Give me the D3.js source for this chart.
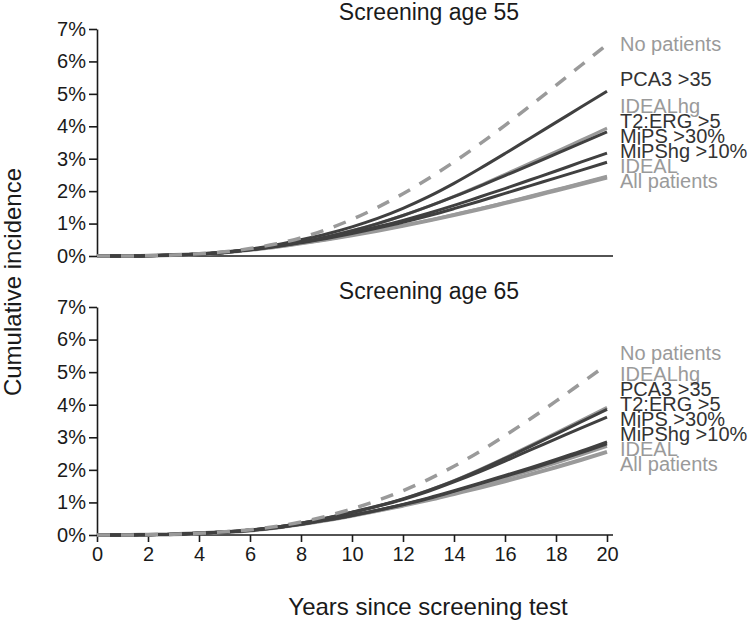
<!DOCTYPE html>
<html>
<head>
<meta charset="utf-8">
<script src="https://cdn.jsdelivr.net/npm/d3@7"></script>
<style>
body { margin: 0; background: #fff; }
text { font-family: "Liberation Sans", Arial, sans-serif; }
</style>
</head>
<body>
<svg id="chart"></svg>
<script>
const years = [0, 1, 2, 3, 4, 5, 6, 7, 8, 9, 10, 11, 12, 13, 14, 15, 16, 17, 18, 19, 20]
const seriesNames = ['No patients', 'PCA3 >35', 'IDEALhg', 'T2:ERG >5', 'MiPS >30%', 'MiPShg >10%', 'IDEAL', 'All patients']
const panelTitles = ['Screening age 55', 'Screening age 65']
const yTicks = [0, 1, 2, 3, 4, 5, 6, 7]
const xTicks = [0, 2, 4, 6, 8, 10, 12, 14, 16, 18, 20]

// cumulative incidence (%) per year, screening age 55
const age55 = {
    'No patients':  [0, 0, 0.01, 0.03, 0.07, 0.13, 0.23, 0.37, 0.56, 0.82, 1.13, 1.5, 1.92, 2.39, 2.9, 3.45, 4.03, 4.64, 5.26, 5.89, 6.52],
    'PCA3 >35':     [0, 0, 0.01, 0.03, 0.06, 0.12, 0.21, 0.34, 0.5, 0.68, 0.9, 1.16, 1.47, 1.83, 2.24, 2.69, 3.16, 3.64, 4.12, 4.6, 5.08],
    'IDEALhg':      [0, 0, 0.01, 0.03, 0.06, 0.11, 0.2, 0.3, 0.43, 0.59, 0.78, 1.0, 1.25, 1.53, 1.84, 2.17, 2.52, 2.87, 3.22, 3.58, 3.94],
    'T2:ERG >5':    [0, 0, 0.01, 0.03, 0.06, 0.11, 0.2, 0.3, 0.43, 0.59, 0.78, 1.0, 1.25, 1.53, 1.83, 2.15, 2.48, 2.81, 3.15, 3.49, 3.83],
    'MiPS >30%':    [0, 0, 0.01, 0.03, 0.06, 0.11, 0.19, 0.29, 0.42, 0.56, 0.72, 0.9, 1.1, 1.32, 1.56, 1.82, 2.08, 2.35, 2.62, 2.9, 3.17],
    'MiPShg >10%':  [0, 0, 0.01, 0.03, 0.06, 0.11, 0.19, 0.29, 0.41, 0.54, 0.69, 0.86, 1.04, 1.24, 1.46, 1.69, 1.93, 2.17, 2.41, 2.65, 2.89],
    'IDEAL':        [0, 0, 0.01, 0.03, 0.06, 0.11, 0.19, 0.28, 0.39, 0.51, 0.65, 0.79, 0.94, 1.1, 1.28, 1.46, 1.65, 1.85, 2.05, 2.25, 2.46],
    'All patients': [0, 0, 0.01, 0.03, 0.06, 0.11, 0.19, 0.28, 0.39, 0.51, 0.64, 0.78, 0.93, 1.09, 1.26, 1.44, 1.63, 1.82, 2.02, 2.22, 2.42]
}

// cumulative incidence (%) per year, screening age 65
const age65 = {
    'No patients':  [0, 0, 0.01, 0.02, 0.05, 0.1, 0.16, 0.26, 0.4, 0.58, 0.8, 1.06, 1.36, 1.71, 2.11, 2.56, 3.05, 3.57, 4.11, 4.67, 5.23],
    'PCA3 >35':     [0, 0, 0.01, 0.02, 0.05, 0.09, 0.15, 0.24, 0.36, 0.52, 0.7, 0.89, 1.11, 1.37, 1.66, 1.99, 2.35, 2.72, 3.1, 3.48, 3.86],
    'IDEALhg':      [0, 0, 0.01, 0.02, 0.05, 0.09, 0.15, 0.24, 0.36, 0.52, 0.7, 0.89, 1.11, 1.37, 1.67, 2.01, 2.37, 2.75, 3.14, 3.53, 3.92],
    'T2:ERG >5':    [0, 0, 0.01, 0.02, 0.05, 0.09, 0.15, 0.24, 0.36, 0.51, 0.69, 0.88, 1.09, 1.34, 1.63, 1.94, 2.27, 2.61, 2.95, 3.29, 3.62],
    'MiPS >30%':    [0, 0, 0.01, 0.02, 0.05, 0.09, 0.14, 0.22, 0.33, 0.46, 0.6, 0.76, 0.94, 1.14, 1.36, 1.59, 1.83, 2.07, 2.32, 2.58, 2.86],
    'MiPShg >10%':  [0, 0, 0.01, 0.02, 0.05, 0.09, 0.14, 0.22, 0.33, 0.46, 0.6, 0.76, 0.93, 1.12, 1.34, 1.57, 1.8, 2.03, 2.28, 2.53, 2.8],
    'IDEAL':        [0, 0, 0.01, 0.02, 0.05, 0.09, 0.14, 0.22, 0.33, 0.45, 0.59, 0.75, 0.92, 1.1, 1.31, 1.52, 1.74, 1.97, 2.21, 2.46, 2.72],
    'All patients': [0, 0, 0.01, 0.02, 0.05, 0.09, 0.14, 0.22, 0.33, 0.45, 0.59, 0.74, 0.9, 1.07, 1.26, 1.45, 1.65, 1.86, 2.08, 2.31, 2.55]
}

const dark = '#404040'
const grey = '#9a9a9a'
const styleOf = {
    'No patients':  { color: grey, width: 3.5, dash: '13,11', text: grey },
    'PCA3 >35':     { color: dark, width: 3, text: '#333' },
    'IDEALhg':      { color: grey, width: 3, text: grey },
    'T2:ERG >5':    { color: dark, width: 3, text: '#333' },
    'MiPS >30%':    { color: dark, width: 3, text: '#333' },
    'MiPShg >10%':  { color: dark, width: 3, text: '#333' },
    'IDEAL':        { color: grey, width: 3, text: grey },
    'All patients': { color: grey, width: 4, text: grey }
}
const drawOrder = ['All patients', 'IDEAL', 'IDEALhg', 'MiPShg >10%', 'MiPS >30%', 'T2:ERG >5', 'PCA3 >35', 'No patients']

const W = 750, H = 621
const svg = d3.select('#chart').attr('width', W).attr('height', H)

const x = d3.scaleLinear().domain([0, 20]).range([97, 607])
const panels = [
    { title: panelTitles[0], data: age55, y: d3.scaleLinear().domain([0, 7]).range([256, 29]), titleY: 20, ticks: false },
    { title: panelTitles[1], data: age65, y: d3.scaleLinear().domain([0, 7]).range([535, 307]), titleY: 299, ticks: true }
]

// push end labels apart so they stay readable, as in the original
const spread = (items, gap, minY) => {
    items.sort((a, b) => a.y - b.y)
    for (let k = 0; k < 300; k++) {
        for (let i = 0; i < items.length - 1; i++) {
            const d = items[i + 1].y - items[i].y
            if (d < gap) {
                const s = (gap - d) / 2
                items[i].y -= s
                items[i + 1].y += s
            }
        }
        items.forEach(e => { if (e.y < minY) e.y = minY })
    }
    return items
}

panels.forEach(p => {
    const g = svg.append('g')
    const y = p.y

    g.append('text')
        .attr('x', 429).attr('y', p.titleY)
        .attr('text-anchor', 'middle')
        .attr('font-size', 23)
        .attr('fill', '#1a1a1a')
        .text(p.title)

    const ya = g.append('g')
        .attr('transform', `translate(${x(0)},0)`)
        .call(d3.axisLeft(y).tickValues(yTicks).tickFormat(d => d + '%').tickSize(8).tickSizeOuter(0).tickPadding(3))
    ya.selectAll('text').attr('font-size', 20).attr('fill', '#1a1a1a')
    ya.selectAll('line, path').attr('stroke', '#1a1a1a').attr('stroke-width', 1.6)

    if (p.ticks) {
        const xa = g.append('g')
            .attr('transform', `translate(0,${y(0)})`)
            .call(d3.axisBottom(x).tickValues(xTicks).tickSize(7).tickSizeOuter(0).tickPadding(5))
        xa.select('.domain').remove()
        xa.selectAll('text').attr('font-size', 20).attr('fill', '#1a1a1a')
        xa.selectAll('line').attr('stroke', '#1a1a1a').attr('stroke-width', 1.6)
    }
    g.append('line')
        .attr('x1', x(0)).attr('x2', x(20) + 6)
        .attr('y1', y(0)).attr('y2', y(0))
        .attr('stroke', '#1a1a1a').attr('stroke-width', 1.6)

    const line = d3.line()
        .x((d, i) => x(years[i]))
        .y(d => y(d))
        .curve(d3.curveMonotoneX)

    drawOrder.forEach(name => {
        const st = styleOf[name]
        g.append('path')
            .datum(p.data[name])
            .attr('d', line)
            .attr('fill', 'none')
            .attr('stroke', st.color)
            .attr('stroke-width', st.width)
            .attr('stroke-dasharray', st.dash || null)
    })

    const labels = spread(seriesNames.map(name => ({
        name,
        y: y(p.data[name][years.length - 1]) - 12
    })), 15, y(7) + 15)

    g.selectAll('.lbl').data(labels).enter()
        .append('text')
        .attr('class', 'lbl')
        .attr('x', 620)
        .attr('y', d => d.y)
        .attr('dy', '0.36em')
        .attr('font-size', 20)
        .attr('fill', d => styleOf[d.name].text)
        .text(d => d.name)
})

svg.append('text')
    .attr('transform', 'translate(21,282) rotate(-90)')
    .attr('text-anchor', 'middle')
    .attr('font-size', 24)
    .attr('fill', '#1a1a1a')
    .text('Cumulative incidence')

svg.append('text')
    .attr('x', 428).attr('y', 615)
    .attr('text-anchor', 'middle')
    .attr('font-size', 24)
    .attr('fill', '#1a1a1a')
    .text('Years since screening test')
</script>
</body>
</html>
